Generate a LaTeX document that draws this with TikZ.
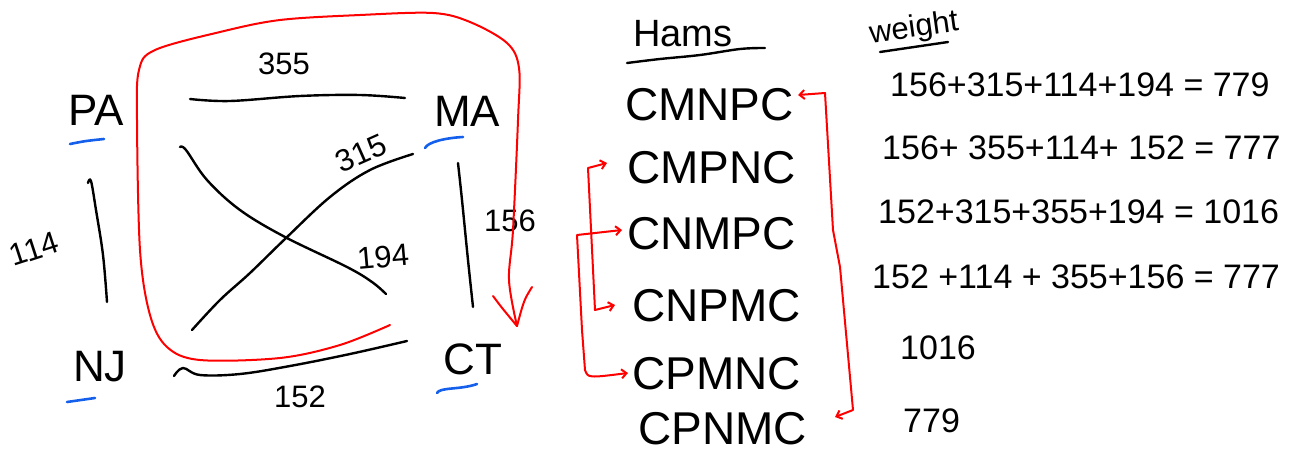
\documentclass[tikz,border=0pt]{standalone}
\usepackage{fontspec}
\setmainfont{Liberation Sans}
\usetikzlibrary{arrows.meta,calc}
\definecolor{penblue}{RGB}{20,95,235}
\begin{document}
\begin{tikzpicture}[x=1pt,y=-1pt,
  ink/.style={draw=black, line width=2.4pt, line cap=round, line join=round},
  redink/.style={draw=red, line width=2pt, line cap=round, line join=round},
  blueink/.style={draw=penblue, line width=2.6pt, line cap=round},
  hook/.style={redink, {Straight Barb[length=5pt,width=9pt]}-{Straight Barb[length=5pt,width=9pt]}},
  state/.style={font=\fontsize{44}{44}\selectfont, inner sep=0pt},
  route/.style={font=\fontsize{46}{46}\selectfont, inner sep=0pt, anchor=west},
  wlabel/.style={font=\fontsize{31}{31}\selectfont, inner sep=0pt},
  sum/.style={font=\fontsize{34}{34}\selectfont, inner sep=0pt, anchor=west},
  head/.style={font=\fontsize{38}{38}\selectfont, inner sep=0pt},
]
\useasboundingbox (0,0) rectangle (1301,453);

% ---------- the four states ----------
\node[state] (PA) at (96,110) {PA};
\node[state] (MA) at (467,111) {MA};
\node[state] (NJ) at (100,367) {NJ};
\node[state] (CT) at (473,359) {CT};

% underlines
\draw[blueink] (70,144) .. controls (85,141) .. (104,139);
\draw[blueink] (425,148) .. controls (428,142) and (445,138) .. (463,137);
\draw[blueink] (67,402) -- (95,398);
\draw[blueink] (437,393) .. controls (440,387) and (460,390) .. (477,384);

% ---------- edge end points ----------
\coordinate (pama1) at (190,99);   \coordinate (pama2) at (405,98);
\coordinate (panj1) at (88,183);   \coordinate (panj2) at (107,302);
\coordinate (mact1) at (458,163);  \coordinate (mact2) at (473,307);
\coordinate (pact1) at (180,147);  \coordinate (pact2) at (386,294);
\coordinate (njma1) at (192,330);  \coordinate (njma2) at (413,154);
\coordinate (njct1) at (174,376);  \coordinate (njct2) at (407,341);

% ---------- edges ----------
\draw[ink] plot[smooth, tension=0.6] coordinates {(pama1) (230,101) (300,96) (360,95) (pama2)};
\draw[ink] plot[smooth, tension=0.6] coordinates {(panj1) (91,181) (96,210) (103,255) (panj2)};
\draw[ink] plot[smooth, tension=0.6] coordinates {(mact1) (462,200) (468,260) (mact2)};
\draw[ink] plot[smooth, tension=0.6] coordinates {(pact1) (186,150) (207,180) (240,210) (285,237) (347,267) (372,282) (pact2)};
\draw[ink] plot[smooth, tension=0.6] coordinates {(njma1) (220,300) (250,273) (285,239) (330,197) (370,170) (njma2)};
\draw[ink] plot[smooth, tension=0.6] coordinates {(njct1) (183,368) (200,375) (240,374) (290,366) (350,354) (njct2)};

% ---------- edge weights ----------
\node[wlabel] (w355) at (284,64) {355};
\node[wlabel, rotate=18] (w114) at (34,249) {114};
\node[wlabel, rotate=24] (w315) at (361,153) {315};
\node[wlabel, rotate=5] (w194) at (383,257) {194};
\node[wlabel] (w156) at (510,221) {156};
\node[wlabel] (w152) at (300,397) {152};

% ---------- red tour around the square ----------
\coordinate (tourA) at (390,325);
\coordinate (tourB) at (517,326);
\draw[redink] plot[smooth, tension=0.55] coordinates {
  (tourA) (340,345) (280,358) (200,360) (167,347) (150,315) (140,250) (137,120) (139,70)
  (155,50) (220,32) (280,20) (360,15) (433,13) (470,22) (507,43) (519,68) (518,120)
  (513,230) (509,280) (tourB)};
\draw[redink] (493,296) .. controls (502,308) .. (tourB);
\draw[redink] (532,287) .. controls (524,300) .. (tourB);

% ---------- Hamilton circuits ----------
\node[head] (hams) at (683,34) {Hams};
\draw[ink] plot[smooth, tension=0.6] coordinates {(627,63) (660,59) (700,55) (740,49) (765,48)};

\node[route] (r1) at (625,105) {CMNPC};
\node[route] (r2) at (627,168) {CMPNC};
\node[route] (r3) at (627,234) {CNMPC};
\node[route] (r4) at (632,306) {CNPMC};
\node[route] (r5) at (632,374) {CPMNC};
\node[route] (r6) at (638,429) {CPNMC};

% reversed pairs
\draw[hook] ($(r1.east)+(4,-10)$) -- (825,93) -- (833,230) -- (840,267) -- (853,410) -- ($(r6.east)+(28,-12)$);
\draw[hook] ($(r2.west)+(-20,-5)$) -- (588,168) -- (595,310) -- ($(r4.west)+(-17,-1)$);
\draw[hook] ($(r3.west)+(-5,-4)$) -- (577,235) -- (582,330) -- (585,370) .. controls (588,378) .. ($(r5.west)+(-4,-1)$);

% ---------- weights ----------
\node[head, font=\fontsize{31}{31}\selectfont, rotate=8] (weight) at (914,29) {weight};
\draw[ink] (880,52) -- (948,42);

\node[sum] (s1) at (890,85)  {156+315+114+194 = 779};
\node[sum] (s2) at (882,148) {156+ 355+114+ 152 = 777};
\node[sum] (s3) at (878,212) {152+315+355+194 = 1016};
\node[sum] (s4) at (872,277) {152 +114 + 355+156 = 777};
\node[sum] (s5) at (900,348) {1016};
\node[sum] (s6) at (903,421) {779};
\end{tikzpicture}
\end{document}
